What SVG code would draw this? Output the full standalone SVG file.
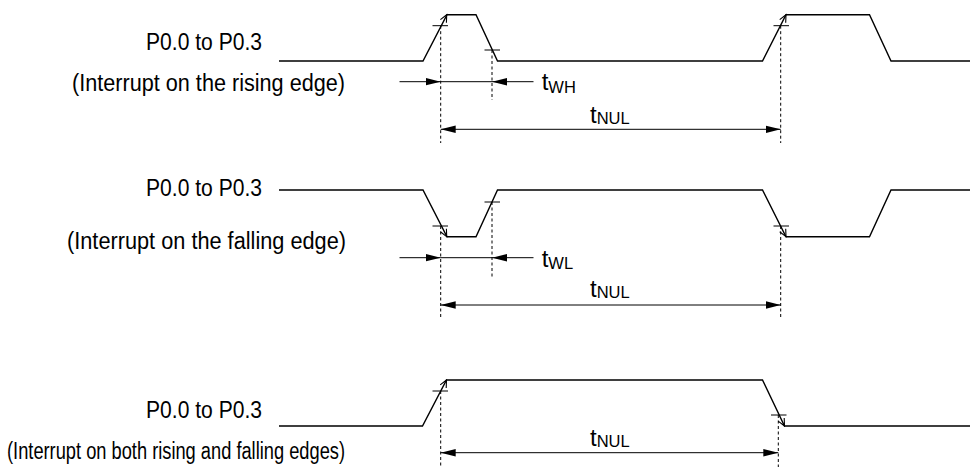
<svg xmlns="http://www.w3.org/2000/svg" width="970" height="467" viewBox="0 0 970 467">
<style>
  .lbl { font-family: "Liberation Sans", Arial, sans-serif; font-size: 23px; fill: #000; }
  .tl { font-family: "Liberation Sans", Arial, sans-serif; font-size: 24px; fill: #000; }
  .sub { font-size: 16.5px; }
  .wave { fill: none; stroke: #000; stroke-width: 1.4; stroke-linejoin: miter; }
  .tick { fill: none; stroke: #000; stroke-width: 1; }
  .chev { fill: none; stroke: #000; stroke-width: 1.1; }
  .dash { fill: none; stroke: #000; stroke-width: 1; stroke-dasharray: 3 2.5; }
  .dim { fill: none; stroke: #000; stroke-width: 1; }
</style>
<defs>
  <marker id="ah" markerWidth="16" markerHeight="9" refX="15" refY="4.5" orient="auto-start-reverse" markerUnits="userSpaceOnUse">
    <path d="M0,0.8 L15,4.5 L0,8.2 z" fill="#000"/>
  </marker>
</defs>
<rect width="970" height="467" fill="#fff"/>

<g id="row1">
  <text class="lbl" x="146" y="50" textLength="116" lengthAdjust="spacingAndGlyphs">P0.0 to P0.3</text>
  <text class="lbl" x="72" y="91" textLength="273" lengthAdjust="spacingAndGlyphs">(Interrupt on the rising edge)</text>
  <path class="wave" d="M279,61 L423,61 L447,14.7 L476,14.7 L497.5,61 L762.5,61 L786,14.7 L869.5,14.7 L891,61 L970,61"/>
  <path class="tick" d="M432.5,25.7 H448 M484.5,50 H500 M773.5,25.7 H789"/>
  <path class="chev" d="M440.4,19.6 L446.7,14.7 L446.4,22.7 M779.7,19.6 L786,14.7 L785.7,22.7"/>
  <text class="tl" x="541.7" y="90">t<tspan class="sub" dy="3">WH</tspan></text>
  <text class="tl" x="590" y="123">t<tspan class="sub" dy="1">NUL</tspan></text>
</g>

<g id="row2">
  <text class="lbl" x="146" y="196" textLength="116" lengthAdjust="spacingAndGlyphs">P0.0 to P0.3</text>
  <text class="lbl" x="67" y="249" textLength="279" lengthAdjust="spacingAndGlyphs">(Interrupt on the falling edge)</text>
  <path class="wave" d="M279,190 L423,190 L447,236.7 L476,236.7 L497.5,190 L762.5,190 L786,236.7 L869.5,236.7 L891,190 L970,190"/>
  <path class="tick" d="M432.5,226 H448 M484.5,202 H500 M773.5,226 H789"/>
  <path class="chev" d="M440.4,231.8 L446.7,236.7 L446.4,228.7 M779.7,231.8 L786,236.7 L785.7,228.7"/>
  <text class="tl" x="541.7" y="267">t<tspan class="sub" dy="2">WL</tspan></text>
  <text class="tl" x="590" y="297">t<tspan class="sub" dy="1">NUL</tspan></text>
</g>

<g id="row3">
  <text class="lbl" x="146" y="418" textLength="116" lengthAdjust="spacingAndGlyphs">P0.0 to P0.3</text>
  <text class="lbl" x="7" y="459" textLength="338" lengthAdjust="spacingAndGlyphs">(Interrupt on both rising and falling edges)</text>
  <path class="wave" d="M279,426 L422.5,426 L446.5,380 L762.5,380 L784.5,426 L970,426"/>
  <path class="tick" d="M432.5,391 H448 M771,415 H786.5"/>
  <path class="chev" d="M440.2,384.9 L446.5,380 L446.2,388 M778.2,421.1 L784.5,426 L784.2,418"/>
  <text class="tl" x="590" y="446">t<tspan class="sub" dy="1">NUL</tspan></text>
</g>

<g id="connectors">
  <path class="dash" d="M440.7,25.7 V143 M492,50 V100 M780.7,25.7 V143"/>
  <path class="dash" d="M440.7,226 V318 M492,202 V277 M780.7,226 V318"/>
  <path class="dash" d="M440.7,391 V467 M778.3,415 V467"/>
  <path class="dim" d="M399.5,81.7 H440.7" marker-end="url(#ah)"/>
  <path class="dim" d="M440.7,81.7 H492"/>
  <path class="dim" d="M533.5,81.7 H492" marker-end="url(#ah)"/>
  <path class="dim" d="M440.7,129.3 H780.7" marker-start="url(#ah)" marker-end="url(#ah)"/>
  <path class="dim" d="M399.5,257.7 H440.7" marker-end="url(#ah)"/>
  <path class="dim" d="M440.7,257.7 H492"/>
  <path class="dim" d="M533.5,257.7 H492" marker-end="url(#ah)"/>
  <path class="dim" d="M440.7,305 H780.7" marker-start="url(#ah)" marker-end="url(#ah)"/>
  <path class="dim" d="M440.7,452.7 H778.3" marker-start="url(#ah)" marker-end="url(#ah)"/>
</g>
</svg>
